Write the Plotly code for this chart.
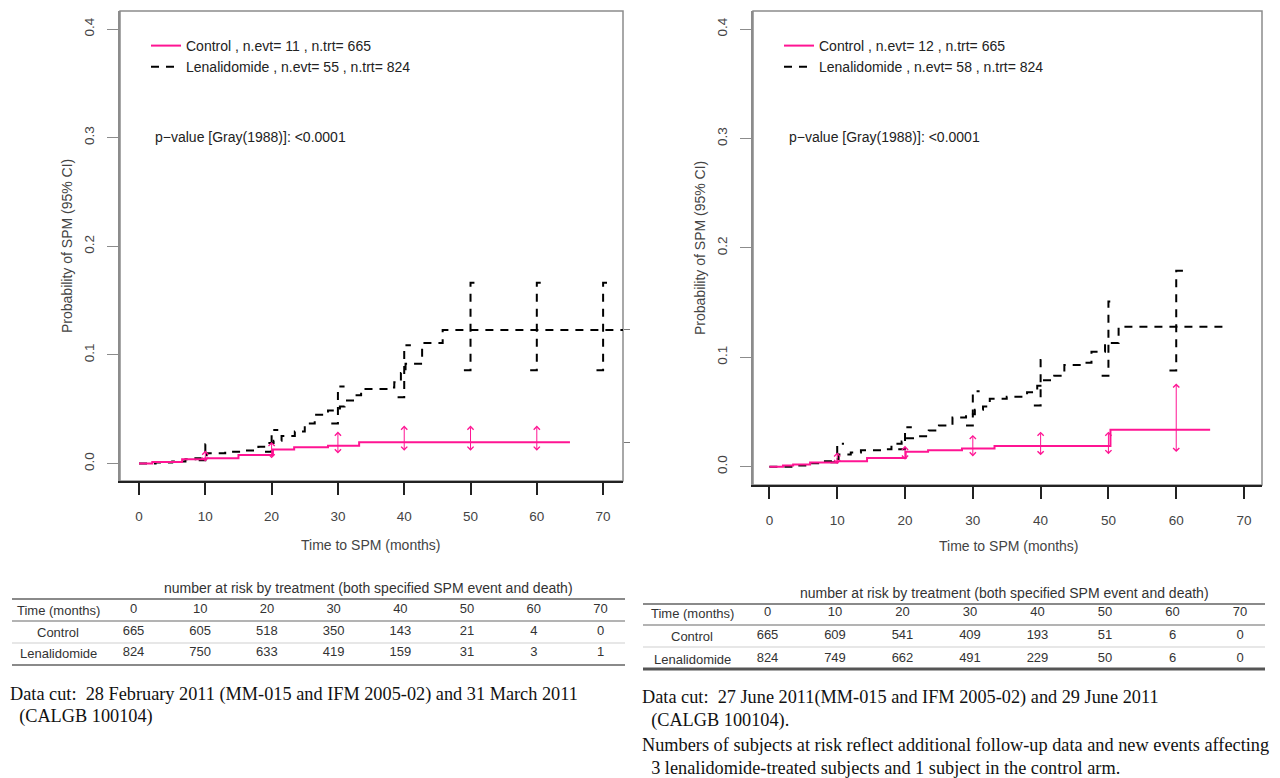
import plotly.graph_objects as go

W, H = 1280, 778
OFF = 8                      # page body margin added by the browser
FW, FH = W - OFF, H - OFF    # figure size so that the figure ends at the window edge

# ---------------- DATA ----------------
# Left panel: data cut Feb/Mar 2011
ctrl_t_L = [0, 2, 6.5, 10, 15, 20.2, 23.4, 28.5, 33.2]
ctrl_y_L = [0, 0.0015, 0.004, 0.005, 0.008, 0.013, 0.015, 0.0165, 0.0197]
ctrl_end_L = 65
lena_t_L = [0, 2.5, 5, 7, 8.5, 9.5, 10.2, 13, 16, 18, 19.5, 20.3, 21.5, 23.5, 25, 26.5,
            28.5, 30.3, 31, 32.5, 33.5, 37.5, 38.5, 39.5, 40.2, 42.7, 45.8]
lena_y_L = [0, 0.001, 0.002, 0.004, 0.005, 0.0065, 0.0095, 0.011, 0.012, 0.0155, 0.019,
            0.021, 0.0255, 0.0295, 0.037, 0.045, 0.049, 0.0526, 0.058, 0.063, 0.0686,
            0.070, 0.075, 0.0835, 0.092, 0.111, 0.123]
lena_end_L = 74
ci_t_ctrl_L = [10, 20, 30, 40, 50, 60]
ci_lo_ctrl_L = [0.0005, 0.0035, 0.008, 0.0105, 0.0105, 0.0105]
ci_hi_ctrl_L = [0.012, 0.020, 0.0295, 0.035, 0.035, 0.035]
ci_t_lena_L = [10, 20, 30, 40, 50, 60, 70]
ci_lo_lena_L = [0.003, 0.011, 0.037, 0.061, 0.086, 0.086, 0.086]
ci_hi_lena_L = [0.0178, 0.031, 0.071, 0.109, 0.1665, 0.1665, 0.1665]
n_evt_ctrl_L, n_evt_lena_L = 11, 55

# Right panel: data cut June 2011
ctrl_t_R = [0, 2, 3.5, 6, 10, 14.4, 20.1, 23.4, 28.4, 33.2, 50.3]
ctrl_y_R = [0, 0.001, 0.002, 0.0037, 0.005, 0.008, 0.0135, 0.015, 0.0166, 0.0188, 0.0338]
ctrl_end_R = 65
lena_t_R = [0, 3.5, 6, 8, 9.3, 10.2, 12, 13.5, 16.5, 18, 19.5, 20.3, 21.5, 23.5, 25, 27,
            29, 30.3, 31.5, 32.5, 35, 38, 39.5, 40.3, 42, 43.5, 46, 47.5, 49.5, 51.5]
lena_y_R = [0, 0.001, 0.003, 0.005, 0.007, 0.011, 0.013, 0.015, 0.016, 0.021, 0.023,
            0.026, 0.0277, 0.033, 0.0375, 0.045, 0.048, 0.052, 0.055, 0.062, 0.064,
            0.068, 0.074, 0.079, 0.083, 0.093, 0.095, 0.105, 0.113, 0.128]
lena_end_R = 67
ci_t_ctrl_R = [10, 20, 30, 40, 50, 60]
ci_lo_ctrl_R = [0.001, 0.005, 0.008, 0.009, 0.010, 0.012]
ci_hi_ctrl_R = [0.013, 0.019, 0.029, 0.032, 0.032, 0.076]
ci_t_lena_R = [10, 20, 30, 40, 50, 60]
ci_lo_lena_R = [0.004, 0.016, 0.0375, 0.056, 0.083, 0.088]
ci_hi_lena_R = [0.021, 0.036, 0.069, 0.0975, 0.151, 0.179]
n_evt_ctrl_R, n_evt_lena_R = 12, 58

n_trt_ctrl, n_trt_lena = 665, 824

x_ticks = [0, 10, 20, 30, 40, 50, 60, 70]
y_ticks = [0.0, 0.1, 0.2, 0.3, 0.4]

table_times = [0, 10, 20, 30, 40, 50, 60, 70]
risk_ctrl_L = [665, 605, 518, 350, 143, 21, 4, 0]
risk_lena_L = [824, 750, 633, 419, 159, 31, 3, 1]
risk_ctrl_R = [665, 609, 541, 409, 193, 51, 6, 0]
risk_lena_R = [824, 749, 662, 491, 229, 50, 6, 0]
row_labels = ["Time (months)", "Control", "Lenalidomide"]
table_title = "number at risk by treatment (both specified SPM event and death)"

note_L = ["Data cut:\u00a0 28 February 2011 (MM-015 and IFM 2005-02) and 31 March 2011",
          "\u00a0\u00a0(CALGB 100104)"]
note_R = ["Data cut:\u00a0 27 June 2011(MM-015 and IFM 2005-02) and 29 June 2011",
          "\u00a0\u00a0(CALGB 100104).",
          "Numbers of subjects at risk reflect additional follow-up data and new events affecting",
          "\u00a0\u00a03 lenalidomide-treated subjects and 1 subject in the control arm."]

# ---------------- STYLE ----------------
PINK = "#FF1493"
SANS = "Liberation Sans, Arial, sans-serif"
SERIF = "Liberation Serif, Times New Roman, serif"
TXT = "#333333"
BOX = "#8c8c8c"


def pxx(x):
    return (x - OFF) / FW


def pyy(y):
    return 1 - (y - OFF) / FH


def step_xy(t, y, end):
    return list(t) + [end], list(y) + [y[-1]]


def ci_steps(t, lo, hi, d=1.0):
    xs, ys = [], []
    for ti, l, h in zip(t, lo, hi):
        xs += [ti - d, ti, ti, ti + d, None]
        ys += [l, l, h, h, None]
    return xs, ys


fig = go.Figure()
annotations = []
shapes = []

panels = [
    dict(xa="x", ya="y", legend="legend",
         ctrl=(ctrl_t_L, ctrl_y_L, ctrl_end_L), lena=(lena_t_L, lena_y_L, lena_end_L),
         cic=(ci_t_ctrl_L, ci_lo_ctrl_L, ci_hi_ctrl_L), cil=(ci_t_lena_L, ci_lo_lena_L, ci_hi_lena_L),
         nevt=(n_evt_ctrl_L, n_evt_lena_L),
         dom_x=(120, 623), dom_y=(11, 481), xr=[-2.87, 73.0], yr=[-0.016, 0.4166],
         leg=(146, 30), pval=(153, 137), ytitle_x=67, xtitle=(371, 545)),
    dict(xa="x2", ya="y2", legend="legend2",
         ctrl=(ctrl_t_R, ctrl_y_R, ctrl_end_R), lena=(lena_t_R, lena_y_R, lena_end_R),
         cic=(ci_t_ctrl_R, ci_lo_ctrl_R, ci_hi_ctrl_R), cil=(ci_t_lena_R, ci_lo_lena_R, ci_hi_lena_R),
         nevt=(n_evt_ctrl_R, n_evt_lena_R),
         dom_x=(753, 1262), dom_y=(11, 485), xr=[-2.42, 72.65], yr=[-0.0168, 0.4166],
         leg=(779, 30), pval=(787, 137), ytitle_x=700, xtitle=(1009, 546)),
]

for i, p in enumerate(panels):
    xa, ya = p["xa"], p["ya"]
    # Lenalidomide curve
    lx, ly = step_xy(*p["lena"])
    fig.add_trace(go.Scatter(x=lx, y=ly, mode="lines", line=dict(color="black", width=2, dash="8px,7px", shape="hv"),
                             name=f"Lenalidomide , n.evt= {p['nevt'][1]} , n.trt= {n_trt_lena}",
                             xaxis=xa, yaxis=ya, legend=p["legend"], legendrank=2))
    cx, cy = ci_steps(*p["cil"])
    fig.add_trace(go.Scatter(x=cx, y=cy, mode="lines", line=dict(color="black", width=2, dash="8px,7px"),
                             showlegend=False, xaxis=xa, yaxis=ya, hoverinfo="skip"))
    # Control curve
    kx, ky = step_xy(*p["ctrl"])
    fig.add_trace(go.Scatter(x=kx, y=ky, mode="lines", line=dict(color=PINK, width=2, shape="hv"),
                             name=f"Control , n.evt= {p['nevt'][0]} , n.trt= {n_trt_ctrl}",
                             xaxis=xa, yaxis=ya, legend=p["legend"], legendrank=1))
    for t, lo, hi in zip(*p["cic"]):
        annotations.append(dict(x=t, y=hi, ax=t, ay=lo, xref=xa, yref=ya, axref=xa, ayref=ya,
                                text="", showarrow=True, arrowside="end+start",
                                arrowhead=4, startarrowhead=4, arrowsize=1.2, startarrowsize=1.2,
                                arrowwidth=1, arrowcolor=PINK))
    # frame (gray top/right/left)
    shapes.append(dict(type="rect", xref=f"{xa} domain", yref=f"{ya} domain", x0=0, x1=1, y0=0, y1=1,
                       line=dict(color=BOX, width=1.5), layer="below"))
    # p-value text
    annotations.append(dict(x=pxx(p["pval"][0]), y=pyy(p["pval"][1]), xref="paper", yref="paper",
                            text="p\u2212value [Gray(1988)]: <0.0001", showarrow=False,
                            xanchor="left", yanchor="middle", font=dict(family=SANS, size=14, color="#222")))
    annotations.append(dict(x=pxx(p["ytitle_x"]), y=(pyy(p["dom_y"][0]) + pyy(p["dom_y"][1])) / 2,
                            xref="paper", yref="paper", text="Probability of SPM (95% CI)", textangle=-90,
                            showarrow=False, xanchor="center", yanchor="middle",
                            font=dict(family=SANS, size=14, color="#444")))
    annotations.append(dict(x=pxx(p["xtitle"][0]), y=pyy(p["xtitle"][1]), xref="paper", yref="paper",
                            text="Time to SPM (months)", showarrow=False, xanchor="center", yanchor="middle",
                            font=dict(family=SANS, size=14, color="#444")))

# final-value ticks on the right side of the left panel
fig.add_trace(go.Scatter(x=[ctrl_end_L, lena_end_L], y=[ctrl_y_L[-1], lena_y_L[-1]], mode="none",
                         showlegend=False, xaxis="x", yaxis="y5", hoverinfo="skip"))


def xaxis_cfg(p):
    return dict(domain=[pxx(p["dom_x"][0]), pxx(p["dom_x"][1])], range=p["xr"], anchor=p["ya"],
                tickmode="array", tickvals=x_ticks, ticks="outside", ticklen=12, tickwidth=1.5,
                tickcolor="#222", showline=True, linecolor="#222", linewidth=2, showgrid=False,
                zeroline=False, ticklabelstandoff=10, tickfont=dict(family=SANS, size=13.5, color="#444"))


def yaxis_cfg(p):
    return dict(domain=[pyy(p["dom_y"][1]), pyy(p["dom_y"][0])], range=p["yr"], anchor=p["xa"],
                tickmode="array", tickvals=y_ticks, ticktext=[f"{v:.1f}" for v in y_ticks],
                tickangle=-90, ticks="outside", ticklen=11, tickwidth=1.2, tickcolor=BOX,
                showline=True, linecolor=BOX, linewidth=1.5, showgrid=False, zeroline=False,
                ticklabelstandoff=8, tickfont=dict(family=SANS, size=13.5, color="#444"))


# ---------- tables ----------
tables = [
    dict(xa="x3", ya="y3", ctrl=risk_ctrl_L, lena=risk_lena_L, x0=133.5, x70=600.5,
         rows=(610, 632, 653), lines=[(599, 2, "#8a8a8a"), (621, 1.6, "#9a9a9a"), (643, 1, "#cfcfcf"), (665, 2, "#8a8a8a")],
         lx=(12, 625), labx=58, title=(368, 588), notes=note_L, note_x=8, note_y=[694, 716]),
    dict(xa="x4", ya="y4", ctrl=risk_ctrl_R, lena=risk_lena_R, x0=767.5, x70=1240,
         rows=(613, 636, 659), lines=[(604, 2, "#8a8a8a"), (625, 1.6, "#9a9a9a"), (647, 1, "#cfcfcf"), (669, 3, "#555555")],
         lx=(643, 1265), labx=692, title=(1004, 593), notes=note_R, note_x=640, note_y=[697, 720, 745, 768]),
]

for tb in tables:
    xs, ys, txt = [], [], []
    for r, vals in enumerate([table_times, tb["ctrl"], tb["lena"]]):
        for t, v in zip(table_times, vals):
            xs.append(t)
            ys.append(r)
            txt.append(str(v))
    fig.add_trace(go.Scatter(x=xs, y=ys, mode="text", text=txt, textposition="middle center",
                             textfont=dict(family=SANS, size=13, color=TXT), showlegend=False,
                             xaxis=tb["xa"], yaxis=tb["ya"], cliponaxis=False, hoverinfo="skip"))
    for r, lab in enumerate(row_labels):
        annotations.append(dict(x=pxx(tb["labx"]), y=pyy(tb["rows"][r]), xref="paper", yref="paper",
                                text=lab, showarrow=False, xanchor="center", yanchor="middle",
                                font=dict(family=SANS, size=13, color=TXT)))
    annotations.append(dict(x=pxx(tb["title"][0]), y=pyy(tb["title"][1]), xref="paper", yref="paper",
                            text=table_title, showarrow=False, xanchor="center", yanchor="middle",
                            font=dict(family=SANS, size=14, color=TXT)))
    for (yl, wl, cl) in tb["lines"]:
        shapes.append(dict(type="line", xref="paper", yref="paper", x0=pxx(tb["lx"][0]), x1=pxx(tb["lx"][1]),
                           y0=pyy(yl), y1=pyy(yl), line=dict(color=cl, width=wl)))
    for line, yl in zip(tb["notes"], tb["note_y"]):
        annotations.append(dict(x=pxx(tb["note_x"]), y=pyy(yl), xref="paper", yref="paper",
                                text=line, showarrow=False, xanchor="left", yanchor="middle",
                                font=dict(family=SERIF, size=18.3, color="#111")))


def table_axes(tb):
    span = tb["rows"][2] - tb["rows"][0]
    half = span / 4
    top = tb["rows"][0] - half
    bot = tb["rows"][2] + half
    xaxis = dict(domain=[pxx(tb["x0"]), pxx(tb["x70"])], range=[0, 70], anchor=tb["ya"],
                 visible=False, fixedrange=True)
    yaxis = dict(domain=[pyy(bot), pyy(top)], range=[2.5, -0.5], anchor=tb["xa"],
                 visible=False, fixedrange=True)
    return xaxis, yaxis


x3, y3 = table_axes(tables[0])
x4, y4 = table_axes(tables[1])

layout_common = dict(
    width=FW, height=FH, margin=dict(l=0, r=0, t=0, b=0),
    paper_bgcolor="white", plot_bgcolor="white",
    font=dict(family=SANS, color=TXT),
    xaxis=xaxis_cfg(panels[0]), yaxis=yaxis_cfg(panels[0]),
    xaxis2=xaxis_cfg(panels[1]), yaxis2=yaxis_cfg(panels[1]),
    xaxis3=x3, yaxis3=y3, xaxis4=x4, yaxis4=y4,
    yaxis5=dict(overlaying="y", side="right", anchor="x", range=panels[0]["yr"],
                tickmode="array", tickvals=[ctrl_y_L[-1], lena_y_L[-1]], ticks="outside",
                ticklen=6, tickwidth=1.2, tickcolor="#777", showticklabels=False,
                showline=False, showgrid=False, zeroline=False),
    legend=dict(x=pxx(panels[0]["leg"][0]), y=pyy(panels[0]["leg"][1]), xanchor="left", yanchor="top",
                bgcolor="rgba(0,0,0,0)", borderwidth=0, font=dict(family=SANS, size=14, color="#222"),
                tracegroupgap=0, traceorder="normal"),
    legend2=dict(x=pxx(panels[1]["leg"][0]), y=pyy(panels[1]["leg"][1]), xanchor="left", yanchor="top",
                 bgcolor="rgba(0,0,0,0)", borderwidth=0, font=dict(family=SANS, size=14, color="#222"),
                 tracegroupgap=0, traceorder="normal"),
    annotations=annotations, shapes=shapes, showlegend=True,
)
fig.update_layout(**layout_common)

fig.write_html("out.html")
